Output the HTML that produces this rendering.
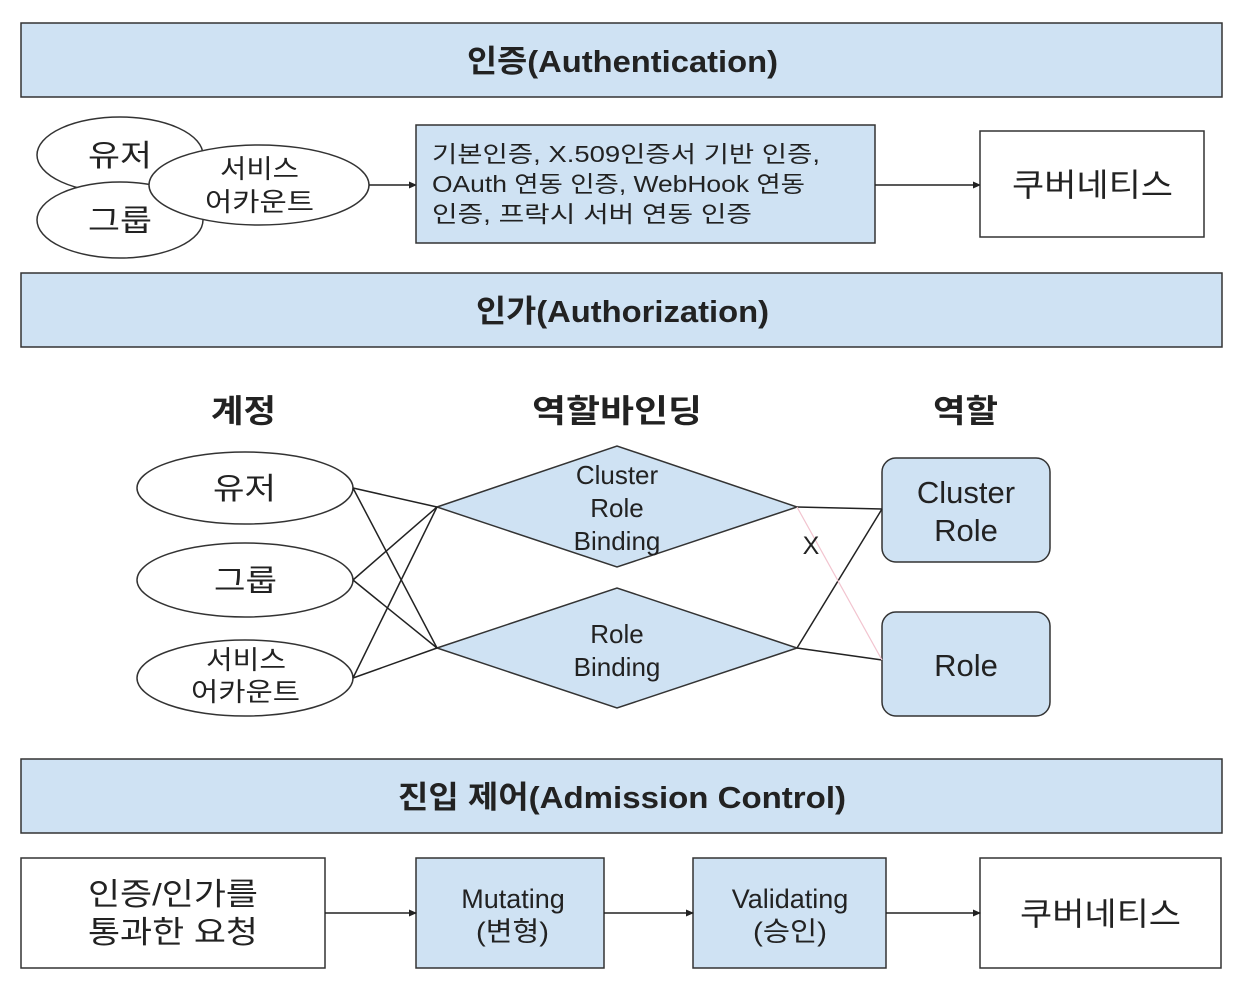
<!DOCTYPE html>
<html><head><meta charset="utf-8"><style>
html,body{margin:0;padding:0;background:#fff;}
svg{display:block;}
text{font-family:"Liberation Sans","Noto Sans CJK KR",sans-serif;fill:#222;}
.b{font-weight:bold;}
</style></head><body>
<svg width="1238" height="990" viewBox="0 0 1238 990" xmlns="http://www.w3.org/2000/svg">
<defs><marker id="a" markerWidth="8" markerHeight="8" refX="7" refY="4" orient="auto" markerUnits="userSpaceOnUse"><path d="M0,0.5 L8,4 L0,7.5z" fill="#222"/></marker></defs>
<g stroke="#333" stroke-width="1.5">
<rect x="21" y="23" width="1201" height="74" fill="#cfe2f3"/>
<rect x="21" y="273" width="1201" height="74" fill="#cfe2f3"/>
<rect x="21" y="759" width="1201" height="74" fill="#cfe2f3"/>
</g>
<text x="467" y="72" font-size="31" class="b" textLength="311" lengthAdjust="spacingAndGlyphs">인증(Authentication)</text>
<text x="476" y="322" font-size="31" class="b" textLength="293" lengthAdjust="spacingAndGlyphs">인가(Authorization)</text>
<text x="398" y="808" font-size="31" class="b" textLength="448" lengthAdjust="spacingAndGlyphs">진입 제어(Admission Control)</text>

<g stroke="#333" stroke-width="1.5" fill="#fff">
<ellipse cx="120" cy="155" rx="83" ry="38"/>
<ellipse cx="120" cy="220" rx="83" ry="38"/>
<ellipse cx="259" cy="185" rx="110" ry="40"/>
</g>
<g font-size="30">
<text x="88" y="166" textLength="64" lengthAdjust="spacingAndGlyphs">유저</text>
<text x="88" y="231" textLength="64" lengthAdjust="spacingAndGlyphs">그룹</text>
</g>
<g font-size="26">
<text x="220" y="178" textLength="79" lengthAdjust="spacingAndGlyphs">서비스</text>
<text x="205" y="211" textLength="109" lengthAdjust="spacingAndGlyphs">어카운트</text>
</g>
<line x1="369" y1="185" x2="416" y2="185" stroke="#222" stroke-width="1.5" marker-end="url(#a)"/>
<rect x="416" y="125" width="459" height="118" fill="#cfe2f3" stroke="#333" stroke-width="1.5"/>
<g font-size="23">
<text x="432" y="162" textLength="388" lengthAdjust="spacingAndGlyphs">기본인증, X.509인증서 기반 인증,</text>
<text x="432" y="192" textLength="373" lengthAdjust="spacingAndGlyphs">OAuth 연동 인증, WebHook 연동</text>
<text x="432" y="222" textLength="320" lengthAdjust="spacingAndGlyphs">인증, 프락시 서버 연동 인증</text>
</g>
<line x1="875" y1="185" x2="980" y2="185" stroke="#222" stroke-width="1.5" marker-end="url(#a)"/>
<rect x="980" y="131" width="224" height="106" fill="#fff" stroke="#333" stroke-width="1.5"/>
<text x="1012" y="196" font-size="32" textLength="161" lengthAdjust="spacingAndGlyphs">쿠버네티스</text>

<g font-size="32" class="b">
<text x="211" y="422" textLength="65" lengthAdjust="spacingAndGlyphs">계정</text>
<text x="532" y="422" textLength="170" lengthAdjust="spacingAndGlyphs">역할바인딩</text>
<text x="933" y="422" textLength="65" lengthAdjust="spacingAndGlyphs">역할</text>
</g>
<g stroke="#333" stroke-width="1.5" fill="#fff">
<ellipse cx="245" cy="488" rx="108" ry="36"/>
<ellipse cx="245" cy="580" rx="108" ry="37"/>
<ellipse cx="245" cy="678" rx="108" ry="38"/>
<polygon points="437,507 617,446 797,507 617,567" fill="#cfe2f3"/>
<polygon points="437,648 617,588 797,648 617,708" fill="#cfe2f3"/>
<rect x="882" y="458" width="168" height="104" rx="14" fill="#cfe2f3"/>
<rect x="882" y="612" width="168" height="104" rx="14" fill="#cfe2f3"/>
</g>
<g stroke="#222" stroke-width="1.5">
<line x1="353" y1="488" x2="437" y2="507"/><line x1="353" y1="488" x2="437" y2="648"/>
<line x1="353" y1="580" x2="437" y2="507"/><line x1="353" y1="580" x2="437" y2="648"/>
<line x1="353" y1="678" x2="437" y2="507"/><line x1="353" y1="678" x2="437" y2="648"/>
<line x1="797" y1="507" x2="882" y2="509"/>
<line x1="797" y1="648" x2="882" y2="660"/>
<line x1="797" y1="648" x2="882" y2="509"/>
</g>
<line x1="797" y1="507" x2="882" y2="660" stroke="#f2c4cf" stroke-width="1.2"/>
<text x="811" y="554" text-anchor="middle" font-size="25">X</text>
<g font-size="30">
<text x="213" y="499" textLength="63" lengthAdjust="spacingAndGlyphs">유저</text>
<text x="214" y="591" textLength="63" lengthAdjust="spacingAndGlyphs">그룹</text>
</g>
<g font-size="26">
<text x="206" y="669" textLength="80" lengthAdjust="spacingAndGlyphs">서비스</text>
<text x="191" y="701" textLength="109" lengthAdjust="spacingAndGlyphs">어카운트</text>
</g>
<g font-size="26" text-anchor="middle">
<text x="617" y="484">Cluster</text>
<text x="617" y="517">Role</text>
<text x="617" y="550">Binding</text>
<text x="617" y="643">Role</text>
<text x="617" y="676">Binding</text>
</g>
<g font-size="31" text-anchor="middle">
<text x="966" y="503">Cluster</text>
<text x="966" y="541">Role</text>
<text x="966" y="676">Role</text>
</g>

<g stroke="#333" stroke-width="1.5">
<rect x="21" y="858" width="304" height="110" fill="#fff"/>
<rect x="416" y="858" width="188" height="110" fill="#cfe2f3"/>
<rect x="693" y="858" width="193" height="110" fill="#cfe2f3"/>
<rect x="980" y="858" width="241" height="110" fill="#fff"/>
</g>
<g stroke="#222" stroke-width="1.5">
<line x1="325" y1="913" x2="416" y2="913" marker-end="url(#a)"/>
<line x1="604" y1="913" x2="693" y2="913" marker-end="url(#a)"/>
<line x1="886" y1="913" x2="980" y2="913" marker-end="url(#a)"/>
</g>
<g font-size="31">
<text x="88" y="905" textLength="170" lengthAdjust="spacingAndGlyphs">인증/인가를</text>
<text x="88" y="943" textLength="170" lengthAdjust="spacingAndGlyphs">통과한 요청</text>
</g>
<g font-size="27" text-anchor="middle">
<text x="513" y="908">Mutating</text>
<text x="790" y="908">Validating</text>
</g>
<text x="476" y="941" font-size="27" textLength="73" lengthAdjust="spacingAndGlyphs">(변형)</text>
<text x="753" y="941" font-size="27" textLength="74" lengthAdjust="spacingAndGlyphs">(승인)</text>
<text x="1020" y="925" font-size="32" textLength="161" lengthAdjust="spacingAndGlyphs">쿠버네티스</text>
</svg>
</body></html>
